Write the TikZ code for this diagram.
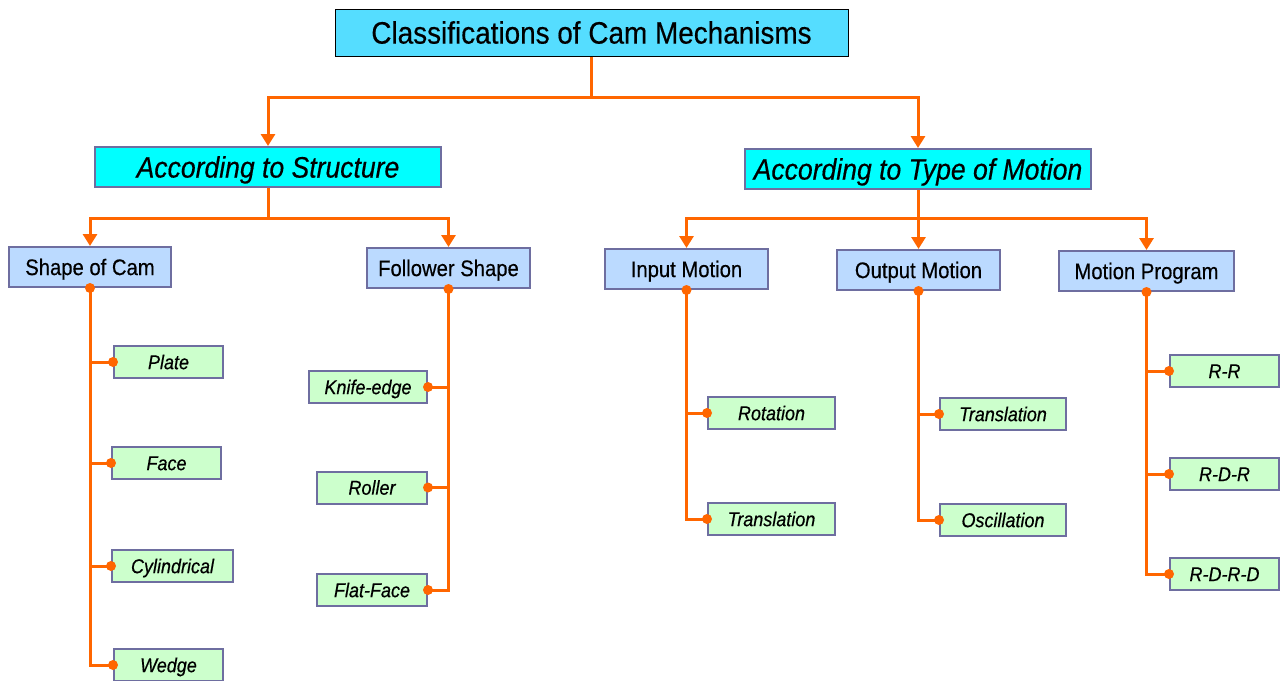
\documentclass[tikz,border=0pt]{standalone}
\usepackage{fontspec}
\setmainfont{Liberation Sans}
\newfontfamily\cf{Liberation Sans}[FakeStretch=0.9,FakeBold=0.4]
\usetikzlibrary{arrows.meta}
\definecolor{linkor}{RGB}{255,102,0}
\definecolor{titlefill}{RGB}{85,221,255}
\definecolor{catfill}{RGB}{0,255,255}
\definecolor{subfill}{RGB}{187,218,255}
\definecolor{leaffill}{RGB}{204,255,204}
\definecolor{boxline}{RGB}{110,110,160}
\tikzset{
  titlebox/.style={draw=black, line width=1pt, fill=titlefill, minimum width=513pt, minimum height=47pt, inner sep=0pt, text height=22.2pt, text depth=0pt, font=\cf\fontsize{31}{31}\selectfont},
  catbox/.style={draw=boxline, line width=2pt, fill=catfill, minimum width=346pt, minimum height=40pt, inner sep=0pt, text height=21.1pt, text depth=0pt, font=\cf\itshape\fontsize{29.5}{29.5}\selectfont},
  subbox/.style={draw=boxline, line width=2pt, fill=subfill, minimum height=40pt, inner sep=0pt, text height=16.1pt, text depth=0pt, font=\cf\fontsize{22.5}{22.5}\selectfont},
  leafbox/.style={draw=boxline, line width=2pt, fill=leaffill, minimum height=32pt, inner sep=0pt, text height=14.3pt, text depth=0pt, font=\cf\itshape\fontsize{20}{20}\selectfont},
  link/.style={draw=linkor, line width=3pt},
  arrowlink/.style={link, -{Triangle[width=14pt,length=12pt]}},
  dotfill/.style={fill=linkor},
}
\begin{document}
\begin{tikzpicture}[x=1pt,y=-1pt]
\useasboundingbox (0,0) rectangle (1281,680);

% headings
\node[titlebox] (title) at (591.5,32.5) {Classifications of Cam Mechanisms};
\node[catbox] (struct) at (268,167) {According to Structure};
\node[catbox] (motion) at (918,169) {According to Type of Motion};

% second level
\node[subbox, minimum width=162pt] (shape) at (90,267) {Shape of Cam};
\node[subbox, minimum width=163pt] (follower) at (448.5,268) {Follower Shape};
\node[subbox, minimum width=163pt] (input) at (686.5,269) {Input Motion};
\node[subbox, minimum width=163pt] (output) at (918.5,270) {Output Motion};
\node[subbox, minimum width=175pt] (program) at (1146.5,271) {Motion Program};

% leaves
\node[leafbox, minimum width=109pt] (plate) at (168.5,362) {Plate};
\node[leafbox, minimum width=109pt] (face) at (166.5,463) {Face};
\node[leafbox, minimum width=121pt] (cyl) at (172.5,566) {Cylindrical};
\node[leafbox, minimum width=109pt] (wedge) at (168.5,665) {Wedge};

\node[leafbox, minimum width=118pt] (knife) at (368,387) {Knife-edge};
\node[leafbox, minimum width=110pt] (roller) at (372,487.5) {Roller};
\node[leafbox, minimum width=110pt] (flat) at (372,590) {Flat-Face};

\node[leafbox, minimum width=127pt] (rot) at (771.5,413) {Rotation};
\node[leafbox, minimum width=127pt] (trin) at (771.5,519) {Translation};

\node[leafbox, minimum width=126pt] (trout) at (1003,414) {Translation};
\node[leafbox, minimum width=126pt] (osc) at (1003,520) {Oscillation};

\node[leafbox, minimum width=109pt] (rr) at (1224.5,371) {R-R};
\node[leafbox, minimum width=109pt] (rdr) at (1224.5,474) {R-D-R};
\node[leafbox, minimum width=109pt] (rdrd) at (1224.5,574) {R-D-R-D};

% junctions
\coordinate (j0) at (591.5,97);
\coordinate (j1) at (268,218);
\coordinate (j2) at (918,218);

% top connectors
\draw[link] (title.south) -- (j0);
\draw[arrowlink] (j0) -| (struct.north);
\draw[arrowlink] (j0) -| (motion.north);

\draw[link] (struct.south) -- (j1);
\draw[arrowlink] (j1) -| (shape.north);
\draw[arrowlink] (j1) -| (follower.north);

\draw[link] (motion.south) -- (j2);
\draw[arrowlink] (j2) -| (input.north);
\draw[arrowlink] (j2) -| (output.north);
\draw[arrowlink] (j2) -| (program.north);

% leaf trunks and branches
\draw[link] (shape.south) |- (wedge.west);
\foreach \n in {plate,face,cyl} \draw[link] (shape.south |- \n.west) -- (\n.west);
\draw[link] (follower.south) |- (flat.east);
\foreach \n in {knife,roller} \draw[link] (follower.south |- \n.east) -- (\n.east);
\draw[link] (input.south) |- (trin.west);
\draw[link] (input.south |- rot.west) -- (rot.west);
\draw[link] (output.south) |- (osc.west);
\draw[link] (output.south |- trout.west) -- (trout.west);
\draw[link] (program.south) |- (rdrd.west);
\foreach \n in {rr,rdr} \draw[link] (program.south |- \n.west) -- (\n.west);

% dots
\foreach \p in {shape.south,follower.south,input.south,output.south,program.south,
  plate.west,face.west,cyl.west,wedge.west,knife.east,roller.east,flat.east,
  rot.west,trin.west,trout.west,osc.west,rr.west,rdr.west,rdrd.west}
  \fill[dotfill] (\p) circle[radius=5pt];
\end{tikzpicture}
\end{document}
